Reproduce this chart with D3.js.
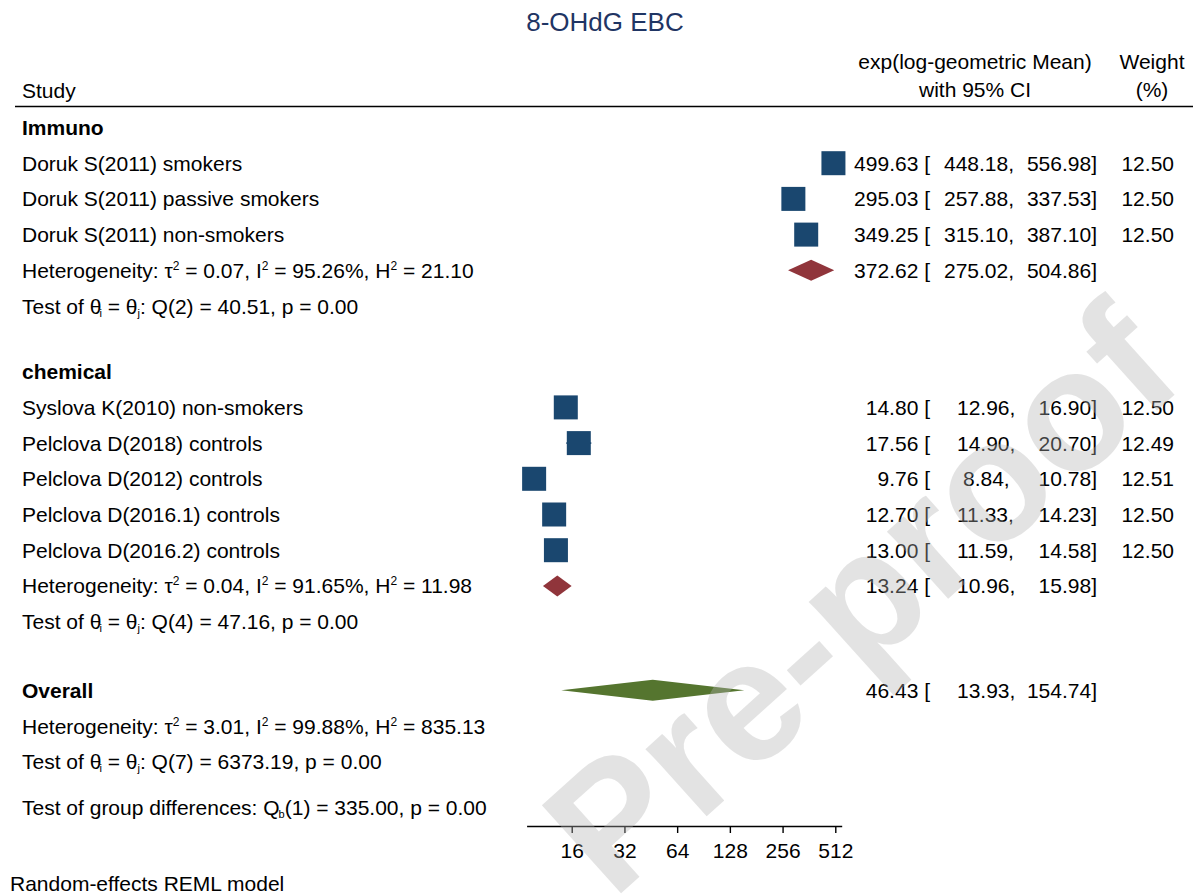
<!DOCTYPE html>
<html>
<head>
<meta charset="utf-8">
<script src="https://cdn.jsdelivr.net/npm/d3@7"></script>
<style>
  body { margin: 0; background: #fff; }
  svg { display: block; font-family: "Liberation Sans", Arial, Helvetica, sans-serif; }
</style>
</head>
<body>
<svg id="chart" width="1195" height="895"></svg>
<script>
// ---- data ----
const groups = ["Immuno", "chemical"];
const studyNames = [
  "Doruk S(2011) smokers",
  "Doruk S(2011) passive smokers",
  "Doruk S(2011) non-smokers",
  "Syslova K(2010) non-smokers",
  "Pelclova D(2018) controls",
  "Pelclova D(2012) controls",
  "Pelclova D(2016.1) controls",
  "Pelclova D(2016.2) controls"
];
const studyGroup  = [0, 0, 0, 1, 1, 1, 1, 1];
const studyMean   = [499.63, 295.03, 349.25, 14.80, 17.56, 9.76, 12.70, 13.00];
const studyLower  = [448.18, 257.88, 315.10, 12.96, 14.90, 8.84, 11.33, 11.59];
const studyUpper  = [556.98, 337.53, 387.10, 16.90, 20.70, 10.78, 14.23, 14.58];
const studyWeight = [12.50, 12.50, 12.50, 12.50, 12.49, 12.51, 12.50, 12.50];

const groupMean  = [372.62, 13.24];
const groupLower = [275.02, 10.96];
const groupUpper = [504.86, 15.98];
const groupTau2  = ["0.07", "0.04"];
const groupI2    = ["95.26", "91.65"];
const groupH2    = ["21.10", "11.98"];
const groupQdf   = [2, 4];
const groupQ     = ["40.51", "47.16"];
const groupP     = ["0.00", "0.00"];

const overallMean  = 46.43;
const overallLower = 13.93;
const overallUpper = 154.74;
const overallTau2 = "3.01", overallI2 = "99.88", overallH2 = "835.13";
const overallQdf = 7, overallQ = "6373.19", overallP = "0.00";
const diffDf = 1, diffQ = "335.00", diffP = "0.00";

const xTicks = [16, 32, 64, 128, 256, 512];

// ---- styling ----
const FONT = 21;
const NAVY = "#1a476f", MAROON = "#90353b", GREEN = "#55752f", TITLE = "#1f3564";

const svg = d3.select("#chart");

// log2 scale spanning the full range of confidence limits
const allLo = d3.min(studyLower), allHi = d3.max(studyUpper);
const x = d3.scaleLog().base(2).domain([allLo, allHi]).range([526.6, 841.7]);

// ---- row layout ----
const rows = [];
groups.forEach((g, gi) => {
  rows.push({ type: "header", label: g, gap: gi > 0 ? 30 : 0 });
  studyNames.forEach((n, i) => {
    if (studyGroup[i] === gi) rows.push({ type: "study", i });
  });
  rows.push({ type: "het", gi });
  rows.push({ type: "test", gi });
});
rows.push({ type: "overall", label: "Overall", gap: 33 });
rows.push({ type: "ohet" });
rows.push({ type: "otest" });
rows.push({ type: "diff", gap: 10 });

const STEP = 35.7;
let yy = 127.5 - STEP;
rows.forEach(r => { yy += STEP + (r.gap || 0); r.y = yy; });

const fmt = d3.format(".2f");

// ---- title & column headers ----
svg.append("text").attr("x", 605).attr("y", 31).attr("text-anchor", "middle")
  .attr("font-size", 26).attr("fill", TITLE).text("8-OHdG EBC");

const hdr = svg.append("g").attr("font-size", FONT).attr("fill", "#000");
hdr.append("text").attr("x", 22).attr("y", 98).text("Study");
hdr.append("text").attr("x", 975).attr("y", 69).attr("text-anchor", "middle").text("exp(log-geometric Mean)");
hdr.append("text").attr("x", 975).attr("y", 97).attr("text-anchor", "middle").text("with 95% CI");
hdr.append("text").attr("x", 1152).attr("y", 69).attr("text-anchor", "middle").text("Weight");
hdr.append("text").attr("x", 1152).attr("y", 97).attr("text-anchor", "middle").text("(%)");
svg.append("line").attr("x1", 15).attr("x2", 1193).attr("y1", 106.5).attr("y2", 106.5)
  .attr("stroke", "#000").attr("stroke-width", 1.6);

// ---- left labels ----
const lab = svg.append("g").attr("font-size", FONT).attr("fill", "#000");
const BASE = 7.5;

function hetText(sel, tau2, i2, h2) {
  const t = sel.append("text");
  t.append("tspan").text("Heterogeneity: τ");
  t.append("tspan").attr("dy", -8).attr("font-size", 12).text("2");
  t.append("tspan").attr("dy", 8).text(` = ${tau2}, I`);
  t.append("tspan").attr("dy", -8).attr("font-size", 12).text("2");
  t.append("tspan").attr("dy", 8).text(` = ${i2}%, H`);
  t.append("tspan").attr("dy", -8).attr("font-size", 12).text("2");
  t.append("tspan").attr("dy", 8).text(` = ${h2}`);
  return t;
}
function testText(sel, df, q, p) {
  const t = sel.append("text");
  t.append("tspan").text("Test of θ");
  t.append("tspan").attr("dy", 3).attr("dx", -2).attr("font-size", 11).text("i");
  t.append("tspan").attr("dy", -3).text(" = θ");
  t.append("tspan").attr("dy", 3).attr("font-size", 11).text("j");
  t.append("tspan").attr("dy", -3).text(`: Q(${df}) = ${q}, p = ${p}`);
  return t;
}

rows.forEach(r => {
  const ty = r.y + BASE;
  if (r.type === "header" || r.type === "overall") {
    lab.append("text").attr("x", 22).attr("y", ty).attr("font-weight", "bold").text(r.label);
  } else if (r.type === "study") {
    lab.append("text").attr("x", 22).attr("y", ty).text(studyNames[r.i]);
  } else if (r.type === "het") {
    hetText(lab, groupTau2[r.gi], groupI2[r.gi], groupH2[r.gi]).attr("x", 22).attr("y", ty);
  } else if (r.type === "test") {
    testText(lab, groupQdf[r.gi], groupQ[r.gi], groupP[r.gi]).attr("x", 22).attr("y", ty);
  } else if (r.type === "ohet") {
    hetText(lab, overallTau2, overallI2, overallH2).attr("x", 22).attr("y", ty);
  } else if (r.type === "otest") {
    testText(lab, overallQdf, overallQ, overallP).attr("x", 22).attr("y", ty);
  } else if (r.type === "diff") {
    const t = lab.append("text").attr("x", 22).attr("y", ty);
    t.append("tspan").text("Test of group differences: Q");
    t.append("tspan").attr("dy", 3).attr("dx", -1).attr("font-size", 11).text("b");
    t.append("tspan").attr("dy", -3).text(`(${diffDf}) = ${diffQ}, p = ${diffP}`);
  }
});

// ---- estimate columns ----
const num = svg.append("g").attr("font-size", FONT).attr("fill", "#000");
// left offset of the lower limit, by number of integer digits (padding of the %7.2f field)
const loPad = { 3: 0, 2: 13, 1: 19 };
function intDigits(v) { return String(Math.floor(v)).length; }
function ciText(y, m, lo, hi, w) {
  const ty = y + BASE;
  num.append("text").attr("x", 930).attr("y", ty).attr("text-anchor", "end").text(`${fmt(m)} [`);
  num.append("text").attr("x", 944 + loPad[intDigits(lo)]).attr("y", ty).text(`${fmt(lo)},`);
  num.append("text").attr("x", 1097).attr("y", ty).attr("text-anchor", "end").text(`${fmt(hi)}]`);
  if (w != null) num.append("text").attr("x", 1174).attr("y", ty).attr("text-anchor", "end").text(fmt(w));
}

// ---- marks ----
const marks = svg.append("g");
const SQ = 24;         // marker side for a 12.5% weight
const DH = 10.5;       // half-height of summary diamonds

function diamond(y, lo, m, hi, color) {
  const pts = [[x(lo), y], [x(m), y - DH], [x(hi), y], [x(m), y + DH]];
  marks.append("path").attr("d", d3.line()(pts) + "Z").attr("fill", color);
}

rows.forEach(r => {
  if (r.type === "study") {
    const i = r.i;
    marks.append("line").attr("x1", x(studyLower[i])).attr("x2", x(studyUpper[i]))
      .attr("y1", r.y).attr("y2", r.y).attr("stroke", NAVY).attr("stroke-width", 1.6);
    const s = SQ * Math.sqrt(studyWeight[i] / 12.5);
    marks.append("rect").attr("x", x(studyMean[i]) - s / 2).attr("y", r.y - s / 2)
      .attr("width", s).attr("height", s).attr("fill", NAVY);
    ciText(r.y, studyMean[i], studyLower[i], studyUpper[i], studyWeight[i]);
  } else if (r.type === "het") {
    diamond(r.y, groupLower[r.gi], groupMean[r.gi], groupUpper[r.gi], MAROON);
    ciText(r.y, groupMean[r.gi], groupLower[r.gi], groupUpper[r.gi], null);
  } else if (r.type === "overall") {
    diamond(r.y, overallLower, overallMean, overallUpper, GREEN);
    ciText(r.y, overallMean, overallLower, overallUpper, null);
  }
});

// ---- axis ----
const axisY = 826;
const axis = d3.axisBottom(x).tickValues(xTicks).tickFormat(d3.format("d")).tickSize(7).tickSizeOuter(0);
const ax = svg.append("g").attr("transform", `translate(0,${axisY})`).call(axis);
ax.select(".domain").attr("stroke", "#000").attr("stroke-width", 1.4);
ax.selectAll(".tick line").attr("stroke", "#000").attr("stroke-width", 1.4);
ax.selectAll(".tick text").attr("font-size", FONT).attr("font-family", "Liberation Sans, Arial, sans-serif")
  .attr("fill", "#000").attr("dy", "1.05em");

svg.append("text").attr("x", 10).attr("y", 891).attr("font-size", FONT).attr("fill", "#000")
  .text("Random-effects REML model");

// ---- watermark (translucent layer over the chart) ----
svg.append("g").attr("opacity", 0.36)
  .append("text")
  .attr("transform", "translate(900,642) rotate(-42)")
  .attr("text-anchor", "middle")
  .attr("font-size", 172)
  .attr("font-weight", "bold")
  .attr("fill", "#b4b4b4")
  .text("Pre-proof");
</script>
</body>
</html>
